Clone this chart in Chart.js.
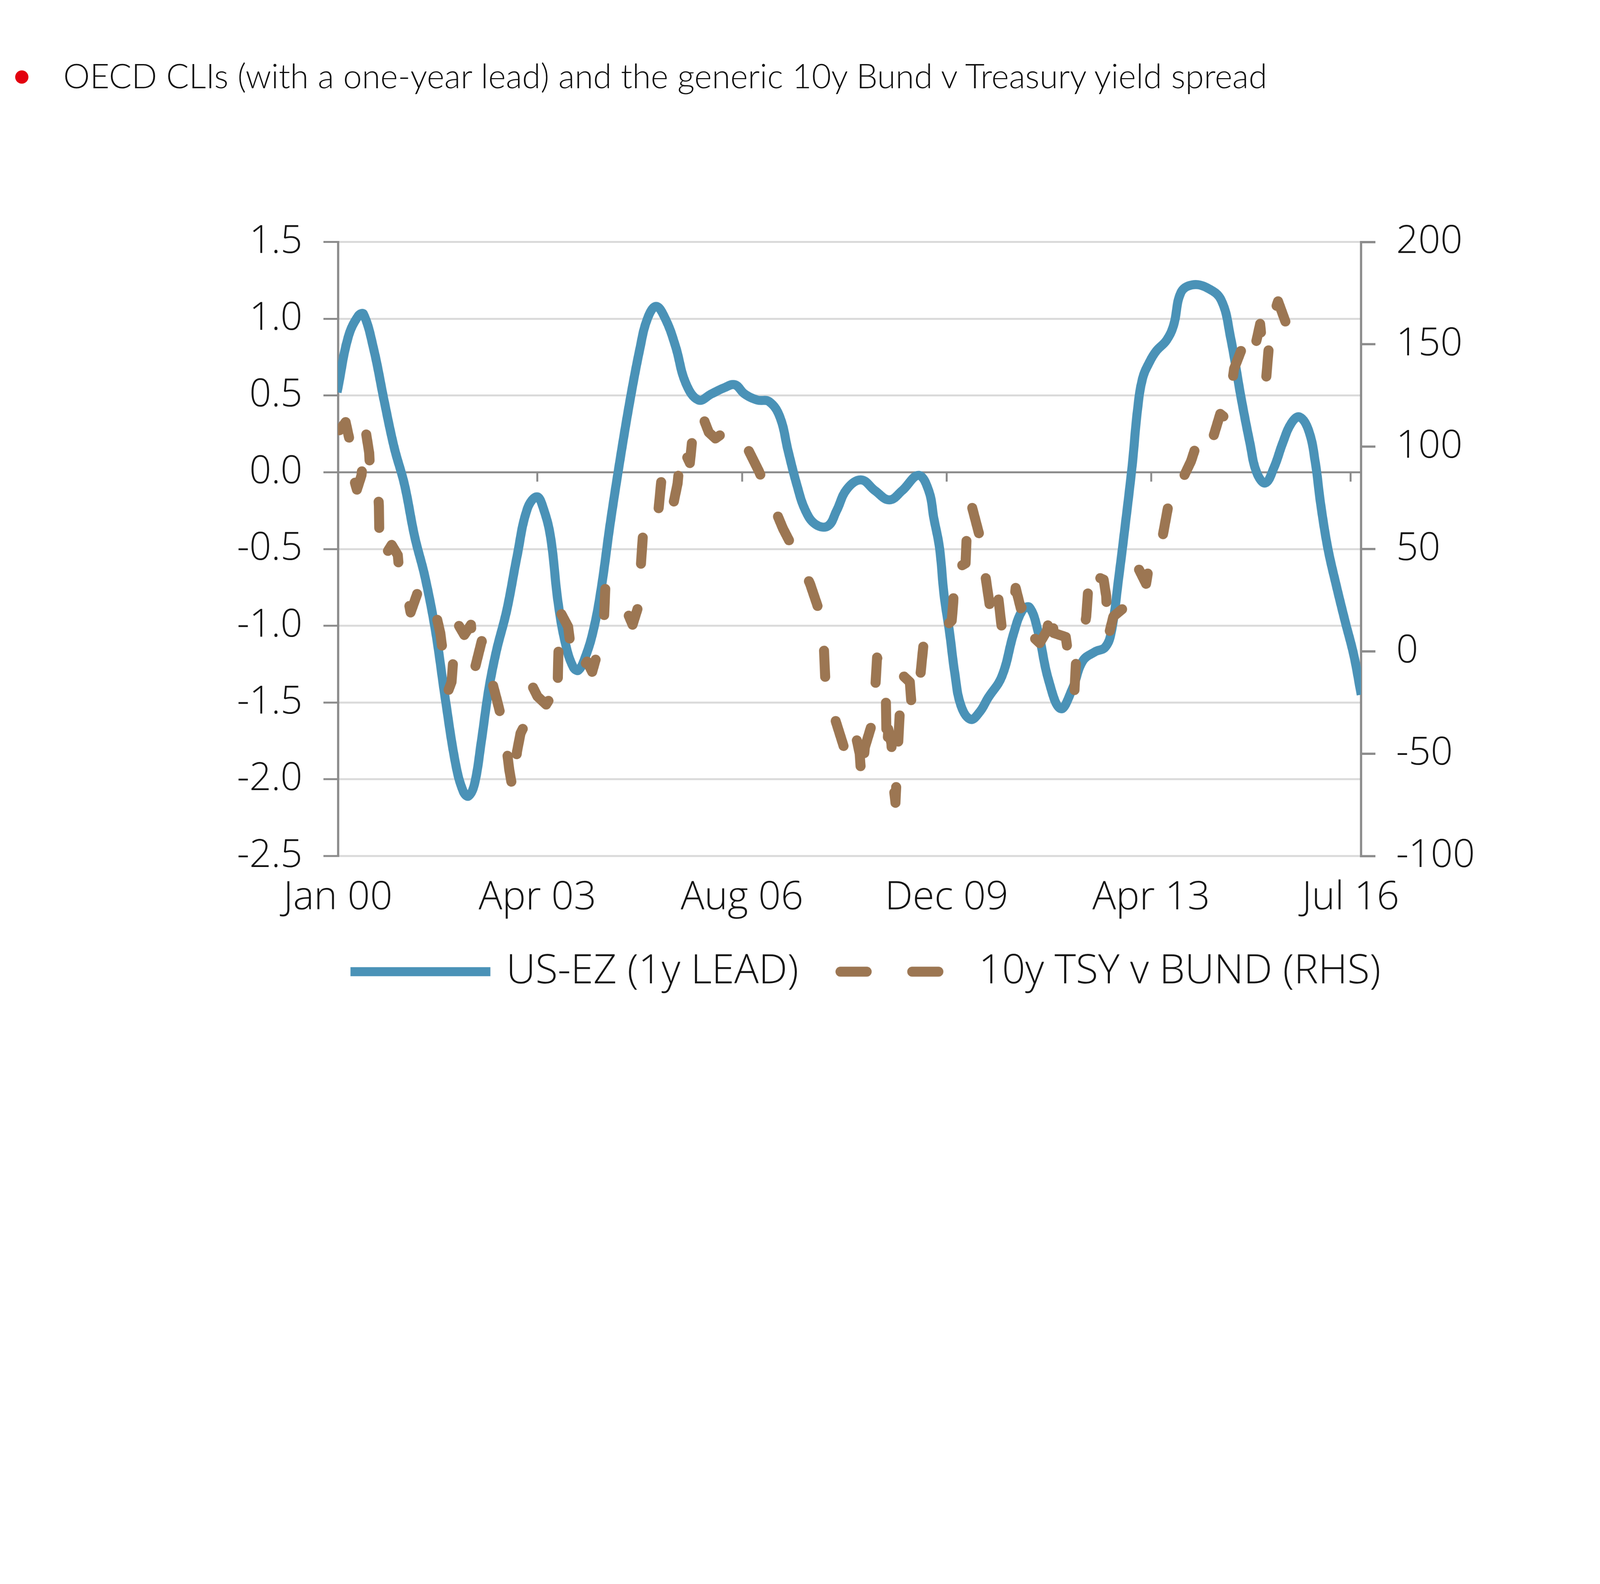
<!DOCTYPE html>
<html>
<head>
<meta charset="utf-8">
<script src="https://cdn.jsdelivr.net/npm/chart.js@4.4.1/dist/chart.umd.min.js"></script>
<style>
  html, body { margin: 0; padding: 0; background: #fff; overflow: hidden; }
  #wrap { position: relative; width: 4952px; height: 4056px; overflow: hidden; transform-origin: 0 0; }
  #chart { position: absolute; left: 0; top: 0; }
  .bullet { position: absolute; left: 47px; top: 218px; width: 41px; height: 41px; border-radius: 50%; background: #e3000f; }
  .title { position: absolute; left: 196px; top: 181px; font-family: 'Lato', 'Open Sans', sans-serif; font-weight: 300; font-size: 104px; line-height: 1; color: #111; white-space: nowrap; }
</style>
</head>
<body>
<div id="wrap">
  <div class="bullet"></div>
  <div class="title">OECD CLIs (with a one-year lead) and the generic 10y Bund v Treasury yield spread</div>
  <canvas id="chart" width="4952" height="4056"></canvas>
</div>
<script>
// x positions are months since Jan 2000
const tickMonths = [0, 39, 79, 119, 159, 198];
const tickLabels = ['Jan 00', 'Apr 03', 'Aug 06', 'Dec 09', 'Apr 13', 'Jul 16'];

// US-EZ CLI gap, 1y lead (LHS)
const cliMonths = [0, 2, 4, 5, 7, 9, 11, 13, 15, 17, 19, 21, 23, 24.5, 25.5, 26.7, 28, 29.5, 31, 33,
  35, 37, 38.9, 40.2, 41.6, 43, 44.5, 46, 47, 48.4, 50, 51.5, 53.2, 55, 57, 59, 60.5, 62.2, 64, 66,
  68, 70.5, 73, 75.5, 77.6, 79.5, 82, 84.3, 86.4, 88, 89.7, 91.4, 93.4, 95.8, 97.5, 99.5, 102.3, 105, 107.8, 110.3,
  113.5, 115.5, 116.5, 117.6, 118.5, 119.6, 120.6, 121.8, 123.7, 125.5, 127.1, 129.8, 132.1, 133.8, 135.2, 136.9, 138.9, 141.3, 143.6, 145.6,
  148, 150, 151.2, 152.6, 153.9, 155.3, 156.3, 157.3, 158.7, 160, 162, 163.4, 164.8, 167, 170, 172.7, 174.5, 176.6, 178.3, 179.6,
  181.3, 183, 184.7, 186.4, 188, 189.8, 191.1, 192.1, 193.5, 195.2, 196.9, 198.6, 199.9];
const cliValues = [0.55, 0.88, 1.02, 1.03, 0.80, 0.47, 0.16, -0.08, -0.42, -0.68, -1.02, -1.48, -1.90, -2.08, -2.11, -2.03, -1.76, -1.41, -1.16, -0.90,
  -0.55, -0.24, -0.16, -0.24, -0.43, -0.84, -1.12, -1.27, -1.29, -1.20, -1.02, -0.75, -0.34, 0.05, 0.45, 0.80, 1.00, 1.08, 1.00, 0.82,
  0.58, 0.47, 0.51, 0.55, 0.57, 0.51, 0.47, 0.46, 0.36, 0.14, -0.08, -0.25, -0.34, -0.35, -0.25, -0.11, -0.05, -0.12, -0.18, -0.12,
  -0.02, -0.12, -0.30, -0.49, -0.80, -1.05, -1.31, -1.52, -1.61, -1.56, -1.47, -1.33, -1.05, -0.90, -0.88, -1.04, -1.35, -1.54, -1.41, -1.23,
  -1.17, -1.14, -1.04, -0.70, -0.35, 0.05, 0.40, 0.61, 0.72, 0.79, 0.86, 0.96, 1.17, 1.22, 1.20, 1.12, 0.88, 0.48, 0.19, 0.00,
  -0.07, 0.03, 0.19, 0.32, 0.36, 0.27, 0.06, -0.20, -0.49, -0.74, -0.97, -1.19, -1.42];

// 10y Treasury v Bund spread, bp (RHS)
const tsyMonths = [0.3, 1.5, 2.2, 2.9, 3.7, 4.6, 5.4, 6.1, 6.4, 7.8, 8.0, 8.1, 8.6, 9.5, 10.5, 11.7, 12, 13.2, 14.2, 15.9,
  17.2, 18.9, 20, 21, 21.6, 22.2, 22.7, 23.3, 24.7, 26, 26.7, 28.1, 29.4, 31.1, 32.5, 33.5, 34.2, 35, 35.7, 36.5,
  37.5, 38, 39, 40.7, 42.2, 42.9, 43, 43.3, 45, 45.6, 47.3, 48.7, 49.7, 51.4, 52, 52.3, 53.5, 55.9, 57.6, 58.6,
  58.8, 59.3, 59.6, 60.8, 62.7, 63.2, 64.3, 65.4, 66.4, 67.1, 68.8, 69.4, 70, 71.1, 72.5, 73.8, 77.2, 79.9, 82.3, 85,
  87, 90.1, 92.3, 94.6, 95, 95.3, 96.8, 99.2, 100.9, 102, 102.4, 103, 104.7, 105.4, 106.1, 107.1, 107.3, 107.6, 108.2, 108.6,
  109, 109.5, 109.8, 110.1, 111.8, 112.2, 113.9, 114.5, 116.6, 118.3, 120, 120.3, 120.6, 122, 122.7, 123, 123.7, 125.7, 126.4, 127.4,
  128.7, 129.8, 131.8, 132.5, 133.5, 134.5, 135.5, 137.2, 138.6, 139.6, 139.9, 142.3, 143, 144, 144.3, 145.3, 146.3, 147, 148, 149.7,
  150.2, 150.5, 151.6, 154, 156, 156.6, 158, 158.7, 160.7, 161, 162.4, 163.4, 165.1, 166.8, 168.5, 169.8, 170.8, 172.5, 173.5, 174.2,
  175.2, 176.9, 178.3, 179.6, 180.3, 181, 181.5, 182.3, 183, 183.8, 185.4, 186.5, 187.8];
const tsyValues = [108, 112, 104, 86, 79, 86, 108, 97, 82, 80, 71, 54, 44, 48, 52, 47, 38, 32, 19, 31,
  23, 21, 9, -10, -19, -15, 1, 14, 8, 13, -9, 5, -8, -24, -38, -58, -68, -49, -40, -36,
  -24, -17, -22, -26, -20, -25, -11, 20, 12, 0, -10, -5, -10, 5, 15, 33, 28, 23, 13, 21,
  27, 45, 56, 53, 70, 83, 68, 70, 82, 101, 92, 107, 117, 116, 107, 104, 110, 100, 88, 72,
  60, 45, 33, 16, 2, -15, -30, -49, -37, -50, -64, -47, -33, -3, -8, -20, -51, -38, -45, -65,
  -74, -46, -32, -11, -15, -28, -11, 4, 14, 11, 15, 24, 44, 42, 43, 61, 73, 54, 40, 23,
  35, 11, 15, 31, 21, 24, 8, 4, 10, 23, 9, 7, -6, -19, -5, 3, 17, 42, 37, 35,
  27, 6, 17, 22, 28, 40, 33, 44, 47, 53, 72, 85, 84, 93, 106, 100, 102, 116, 114, 120,
  138, 149, 141, 152, 160, 141, 134, 158, 165, 171, 160, 157, 152];

const BLUE = '#4A92B7';
const BROWN = '#9C7652';
const AXIS = '#8C8C8C';
const GRID = '#DADADA';
const TEXT = '#111111';

Chart.defaults.font.family = "'Open Sans', sans-serif";
Chart.defaults.font.weight = '300';

// the page is laid out at 4952x4056; shrink it if the viewport is smaller
function fitPage() {
    const wrap = document.getElementById('wrap');
    const k = Math.min(window.innerWidth / 4952, window.innerHeight / 4056);
    if (k > 0 && Math.abs(k - 1) > 0.001) {
        wrap.style.transform = 'scale(' + k + ')';
    }
}

function toPoints(xs, ys) {
    return xs.map((x, i) => ({ x: x, y: ys[i] }));
}

function setMonthTicks(scale) {
    scale.ticks = tickMonths.map(m => ({ value: m }));
}

function createChart() {
    const canvas = document.getElementById('chart');
    if (!canvas) {
        console.error('Canvas chart not found');
        return;
    }
    new Chart(canvas.getContext('2d'), {
        type: 'line',
        data: {
            datasets: [{
                label: 'US-EZ (1y LEAD)',
                data: toPoints(cliMonths, cliValues),
                yAxisID: 'y',
                borderColor: BLUE,
                borderWidth: 28,
                borderCapStyle: 'square',
                pointRadius: 0,
                tension: 0.4,
                order: 1
            }, {
                label: '10y TSY v BUND (RHS)',
                data: toPoints(tsyMonths, tsyValues),
                yAxisID: 'y2',
                borderColor: BROWN,
                borderWidth: 31,
                borderDash: [81, 141],
                borderCapStyle: 'round',
                borderJoinStyle: 'round',
                pointRadius: 0,
                tension: 0,
                order: 0
            }]
        },
        options: {
            responsive: false,
            animation: false,
            devicePixelRatio: 1,
            layout: { padding: { left: 420, top: 749, right: 0, bottom: 975 } },
            plugins: {
                tooltip: { enabled: false },
                legend: {
                    position: 'bottom',
                    labels: {
                        usePointStyle: true,
                        pointStyleWidth: 405,
                        padding: 90,
                        color: TEXT,
                        font: { size: 126 },
                        generateLabels: chart => chart.data.datasets.map((ds, i) => ({
                            text: ds.label,
                            datasetIndex: i,
                            pointStyle: 'line',
                            strokeStyle: ds.borderColor,
                            fillStyle: ds.borderColor,
                            lineWidth: ds.borderWidth,
                            lineDash: ds.borderDash || [],
                            lineDashOffset: ds.borderDash ? -40 : 0,
                            lineCap: ds.borderCapStyle,
                            fontColor: TEXT,
                            hidden: false
                        }))
                    }
                }
            },
            scales: {
                x: {
                    type: 'linear',
                    min: 0,
                    max: 200,
                    afterBuildTicks: setMonthTicks,
                    afterFit: s => { s.height = 205; },
                    grid: { display: false, drawTicks: false },
                    border: { display: false },
                    ticks: {
                        autoSkip: false,
                        maxRotation: 0,
                        padding: 57,
                        color: TEXT,
                        font: { size: 122 },
                        callback: (v, i) => tickLabels[i]
                    }
                },
                y: {
                    position: 'left',
                    min: -2.5,
                    max: 1.5,
                    afterFit: s => { s.width = 626; },
                    grid: {
                        color: c => (c.tick && c.tick.value === 0) ? AXIS : GRID,
                        lineWidth: 6,
                        tickLength: 45,
                        tickColor: AXIS
                    },
                    border: { color: AXIS, width: 7 },
                    ticks: {
                        stepSize: 0.5,
                        padding: 65,
                        color: TEXT,
                        font: { size: 119 },
                        callback: v => v.toFixed(1)
                    }
                },
                y2: {
                    position: 'right',
                    min: -100,
                    max: 200,
                    afterFit: s => { s.width = 740; },
                    grid: { drawOnChartArea: false, tickLength: 45, tickColor: AXIS, lineWidth: 7 },
                    border: { color: AXIS, width: 7 },
                    ticks: {
                        stepSize: 50,
                        padding: 64,
                        color: TEXT,
                        font: { size: 120 }
                    }
                },
                // zero line of the left axis with the date tick marks hanging from it
                xz: {
                    type: 'linear',
                    min: 0,
                    max: 200,
                    position: { y: 0 },
                    afterBuildTicks: setMonthTicks,
                    grid: { drawOnChartArea: false, tickLength: 26, tickColor: AXIS, lineWidth: 6 },
                    border: { color: AXIS, width: 6 },
                    ticks: { display: false }
                }
            }
        }
    });
}

fitPage();
createChart();
</script>
</body>
</html>
